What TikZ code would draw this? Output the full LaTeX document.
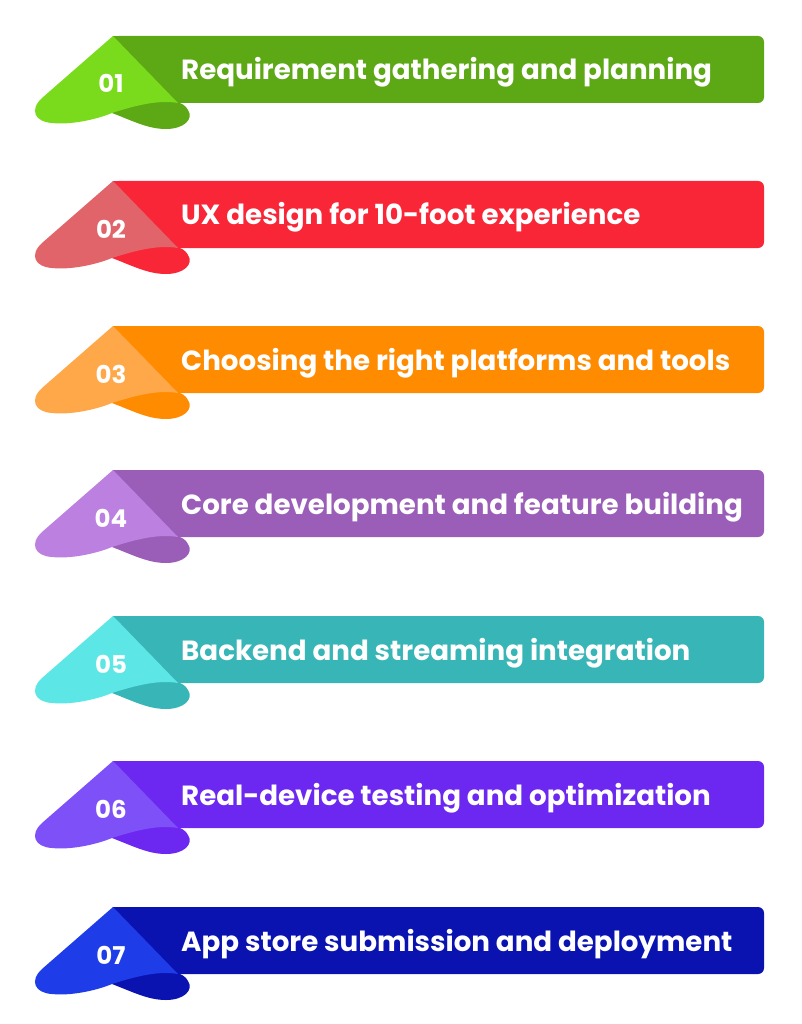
\documentclass[tikz,border=0pt]{standalone}
\usepackage{fontspec}
\setmainfont{Poppins}
\definecolor{barA}{HTML}{5DA815}
\definecolor{flapA}{HTML}{79DB1B}
\definecolor{barB}{HTML}{F92637}
\definecolor{flapB}{HTML}{E0646A}
\definecolor{barC}{HTML}{FF8B00}
\definecolor{flapC}{HTML}{FFA84A}
\definecolor{barD}{HTML}{9B5EB8}
\definecolor{flapD}{HTML}{BC80E0}
\definecolor{barE}{HTML}{38B6B7}
\definecolor{flapE}{HTML}{5CE6E6}
\definecolor{barF}{HTML}{6C28F0}
\definecolor{flapF}{HTML}{7E50F8}
\definecolor{barG}{HTML}{0A12B0}
\definecolor{flapG}{HTML}{1E3CE8}
\begin{document}
\begin{tikzpicture}[x=1pt,y=-1pt,
    numtext/.style={text=white,font=\fontsize{24.5}{25}\selectfont\bfseries,anchor=base,inner sep=0pt},
    titletext/.style={text=white,font=\fontsize{27.7}{28}\selectfont\bfseries,anchor=base west,inner sep=0pt}]
    \useasboundingbox (0,0) rectangle (802,1024);
    \foreach \i/\top/\bar/\flap/\txt in {
        1/36/barA/flapA/{Requirement gathering and planning},
        2/181/barB/flapB/{UX design for 10-foot experience},
        3/326/barC/flapC/{Choosing the right platforms and tools},
        4/470/barD/flapD/{Core development and feature building},
        5/616/barE/flapE/{Backend and streaming integration},
        6/761/barF/flapF/{Real-device testing and optimization},
        7/907/barG/flapG/{App store submission and deployment}}{
    \begin{scope}[yshift=-\top pt]
        % ribbon and folded lobe
        \fill[\bar,rounded corners=6pt] (113,0) rectangle (764,67);
        \fill[\bar] (113,0) rectangle (140,67);
        \fill[\bar] (112,77) .. controls (133,85) and (148,93) .. (166,93) .. controls (184,93) and (194,83) .. (188,74) .. controls (186,70) and (182,67) .. (176,66) -- (150,58) -- (112,70) -- cycle;
        % flap
        \fill[\flap] (113,0) -- (178,67) .. controls (160,64) and (140,68) .. (112,77) .. controls (95,84) and (70,89) .. (52,87) .. controls (35,86) and (29,74) .. (42,62) -- cycle;
        \node[numtext] (num\i) at (111,57) {0\i};
        \node[titletext] (title\i) at (181,44) {\txt};
    \end{scope}
    }
\end{tikzpicture}
\end{document}
